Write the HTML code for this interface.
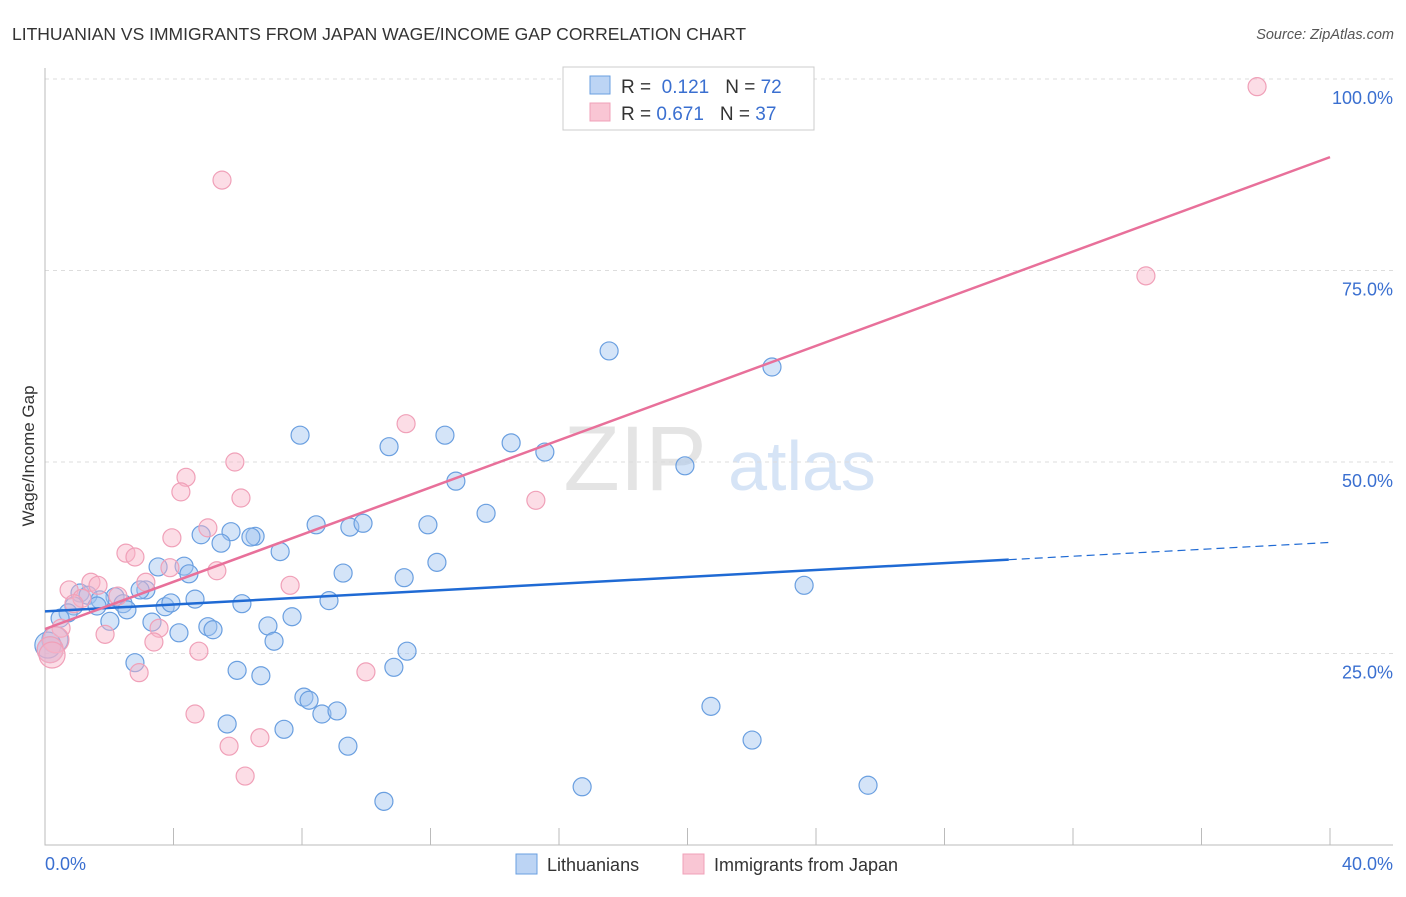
<!DOCTYPE html>
<html><head><meta charset="utf-8"><style>
body{margin:0;background:#fff;font-family:"Liberation Sans",sans-serif;}
svg text{font-family:"Liberation Sans",sans-serif;}
</style></head><body>
<svg width="1406" height="892" viewBox="0 0 1406 892" id="c">
<text x="12" y="40" font-size="17.5" fill="#333">LITHUANIAN VS IMMIGRANTS FROM JAPAN WAGE/INCOME GAP CORRELATION CHART</text>
<text x="1394" y="39" font-size="14.5" fill="#555" font-style="italic" text-anchor="end">Source: ZipAtlas.com</text>
<g>
<text x="635" y="490" font-size="92" fill="#e4e4e4" font-family="Liberation Serif" text-anchor="middle">ZIP</text>
<text x="802" y="490" font-size="70" fill="#d6e4f6" text-anchor="middle">atlas</text>
</g>
<g id="grid"></g>
<g id="marks"></g>
<text transform="translate(34,456) rotate(-90)" font-size="17" fill="#333" text-anchor="middle">Wage/Income Gap</text>
<g>
<rect x="563" y="67" width="251" height="63" fill="#fff" stroke="#ccc"/>
<rect x="590" y="76" width="20" height="18" fill="#bcd4f4" stroke="#6a9fe0"/>
<rect x="590" y="103" width="20" height="18" fill="#f9c6d4" stroke="#f0a0b8"/>
<text x="621" y="93" font-size="19" fill="#333">R = <tspan fill="#3a6fd0">&#160;0.121</tspan><tspan dx="16">N = </tspan><tspan fill="#3a6fd0">72</tspan></text>
<text x="621" y="120" font-size="19" fill="#333">R = <tspan fill="#3a6fd0">0.671</tspan><tspan dx="16">N = </tspan><tspan fill="#3a6fd0">37</tspan></text>
</g>
<g>
<rect x="516" y="854" width="21" height="20" fill="#bcd4f4" stroke="#6a9fe0"/>
<text x="547" y="871" font-size="18" fill="#333">Lithuanians</text>
<rect x="683" y="854" width="21" height="20" fill="#f9c6d4" stroke="#f0a0b8"/>
<text x="714" y="871" font-size="18" fill="#333">Immigrants from Japan</text>
</g>
</svg>
<script>
const yTicks=[25,50,75,100];
const yTickLabels=["25.0%","50.0%","75.0%","100.0%"];
const xTicks=[0,4,8,12,16,20,24,28,32,36,40];
const blueX=[17.56,22.63,7.94,10.71,12.45,14.51,15.56,19.92,12.79,13.73,8.44,9.49,9.90,11.92,5.79,6.54,6.41,4.86,5.48,7.32,12.20,9.28,11.18,23.63,3.52,4.33,4.48,3.14,2.96,1.09,1.34,2.18,1.71,2.43,0.90,1.62,2.55,0.72,0.47,3.74,3.92,4.67,6.13,8.84,7.69,3.33,2.02,5.07,5.23,4.17,6.94,7.13,11.27,2.80,5.98,6.72,10.86,8.06,8.22,8.62,9.09,9.43,5.67,7.44,20.73,22.01,25.62,16.72,10.55,0.31,0.16,0.09];
const blueY=[64.5,62.4,53.5,52.0,53.5,52.5,51.3,49.5,47.5,43.3,41.8,41.5,42.0,41.8,40.9,40.3,40.2,40.5,39.4,38.3,36.9,35.5,34.9,33.9,36.3,36.4,35.4,33.3,33.3,32.9,32.6,32.4,32.0,31.5,31.2,31.2,30.7,30.3,29.6,31.1,31.6,32.1,31.5,31.9,29.8,29.1,29.2,28.5,28.1,27.7,28.6,26.6,25.3,23.8,22.8,22.1,23.2,19.3,18.9,17.1,17.5,12.9,15.8,15.1,18.1,13.7,7.8,7.6,5.7,26.8,25.5,26.1];
const pinkX=[37.73,34.27,5.51,11.24,5.91,4.39,4.23,6.10,15.28,5.07,3.95,2.52,2.80,3.89,5.35,3.14,1.43,1.65,0.75,2.27,7.63,1.15,0.90,0.50,1.87,3.55,3.39,4.79,2.93,9.99,4.67,6.69,5.73,6.23,0.34,0.16,0.22];
const pinkY=[99.0,74.3,86.8,55.0,50.0,48.0,46.1,45.3,45.0,41.4,40.1,38.1,37.6,36.2,35.8,34.3,34.3,33.9,33.3,32.5,33.9,32.2,31.5,28.3,27.5,28.3,26.5,25.3,22.5,22.6,17.1,14.0,12.9,9.0,26.8,25.5,24.8];
const blueTrend=[30.5,39.5];
const pinkTrend=[28.2,89.8];
const blueSolidEnd=30;

const NS="http://www.w3.org/2000/svg";
const xs=v=>45+v/40*1285;
const ys=v=>845-v/100*766;
function mk(tag,attrs,parent){const e=document.createElementNS(NS,tag);for(const k in attrs)e.setAttribute(k,attrs[k]);parent.appendChild(e);return e;}
const grid=document.getElementById('grid'),marks=document.getElementById('marks'),svg=document.getElementById('c');
yTicks.forEach((t,i)=>{
 const l=mk('line',{x1:45,x2:1393,y1:ys(t),y2:ys(t),stroke:'#ddd','stroke-dasharray':'4,4'},grid);
 
 
 const tx=mk('text',{x:1393,y:ys(t)+25,'font-size':18,fill:'#3a6fd0','text-anchor':'end'},grid);
 tx.textContent=yTickLabels[i];
 
 
});
const ax=mk('path',{d:'M45 68 V845 H1393',fill:'none',stroke:'#bbb'},grid);


xTicks.forEach(t=>{
 const tk=mk('line',{x1:xs(t),x2:xs(t),y1:828,y2:845,stroke:'#bbb'},grid);
 
 
});
const xl0=mk('text',{x:45,y:870,'font-size':18,fill:'#3a6fd0'},grid);xl0.textContent='0.0%';


const xl1=mk('text',{x:1393,y:870,'font-size':18,fill:'#3a6fd0','text-anchor':'end'},grid);xl1.textContent='40.0%';


function pts(X,Y,fill,stroke,name){X.forEach((x,i)=>{
 const big=x<0.4;
 const c=mk('circle',{cx:xs(x),cy:ys(Y[i]),r:big?13:9,fill:fill,stroke:stroke,'stroke-width':1.2},marks);
 
 
});}
pts(blueX,blueY,'rgba(160,196,240,0.45)','#6a9fe0','point-lithuanian');
pts(pinkX,pinkY,'rgba(248,180,200,0.45)','#f0a0b8','point-japan');
const bAt=x=>blueTrend[0]+(blueTrend[1]-blueTrend[0])*x/40;
const b1=mk('line',{x1:xs(0),y1:ys(bAt(0)),x2:xs(blueSolidEnd),y2:ys(bAt(blueSolidEnd)),stroke:'#1f6ad4','stroke-width':2.5},marks);


const b2=mk('line',{x1:xs(blueSolidEnd),y1:ys(bAt(blueSolidEnd)),x2:xs(40),y2:ys(bAt(40)),stroke:'#1f6ad4','stroke-width':1.2,'stroke-dasharray':'8,5'},marks);


const p1=mk('line',{x1:xs(0),y1:ys(pinkTrend[0]),x2:xs(40),y2:ys(pinkTrend[1]),stroke:'#e8709a','stroke-width':2.5},marks);


</script>
</body></html>
